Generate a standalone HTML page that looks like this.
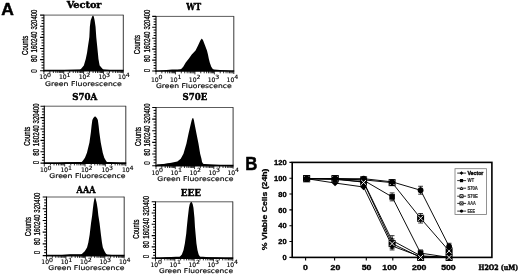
<!DOCTYPE html>
<html lang="en"><head><meta charset="utf-8"><title>Figure</title>
<style>html,body{margin:0;padding:0;background:#fff}body{width:520px;height:275px;overflow:hidden}svg{display:block}</style>
</head><body>
<svg width="520" height="275" viewBox="0 0 520 275" role="img" aria-label="Figure panels A and B">
<rect width="520" height="275" fill="#fff"/>
<text x="1.2" y="14.85" font-size="17.0" font-family='"Liberation Sans", "DejaVu Sans", sans-serif' font-weight="bold" text-anchor="start" fill="#000" stroke="#000" stroke-width="0.5" stroke-linejoin="round" textLength="12.6" lengthAdjust="spacingAndGlyphs">A</text>
<text x="245.3" y="169.7" font-size="18.0" font-family='"Liberation Sans", "DejaVu Sans", sans-serif' font-weight="bold" text-anchor="start" fill="#000" stroke="#000" stroke-width="0.5" stroke-linejoin="round" textLength="12.1" lengthAdjust="spacingAndGlyphs">B</text>
<path d="M43.9 15.1H123.3" fill="none" stroke="#4a4a4a" stroke-width="0.9"/>
<path d="M123.3 14.8V70.7" fill="none" stroke="#222" stroke-width="0.9"/>
<path d="M43.9 14.7V71.5" fill="none" stroke="#000" stroke-width="1.1"/>
<path d="M43.4 70.7H123.7" fill="none" stroke="#000" stroke-width="1.7"/>
<polygon points="78.85,70.7 79.85,70.1 81.35,68.6 83.85,65.4 85.75,59.1 87.05,52.7 88.05,45.8 88.95,40 89.35,36.9 89.85,26.7 90.65,20.4 92.15,16.5 92.95,15.6 93.05,15.6 93.75,16.5 94.65,20.4 95.55,26.7 96.25,36.9 96.55,40 97.15,45.8 97.85,52.7 98.45,59.1 99.65,65.4 102.25,68.6 103.65,70.1 104.65,70.7" fill="#000"/>
<polygon points="58,70.7 64,70 72,69.7 80,69.5 104,69.6 110,70 116,70.7" fill="#000"/>
<path d="M41.5 67.92H43.9M41.5 65.14H43.9M41.5 62.36H43.9M41.5 56.8H43.9M41.5 54.02H43.9M41.5 51.24H43.9M41.5 45.68H43.9M41.5 42.9H43.9M41.5 40.12H43.9M41.5 34.56H43.9M41.5 31.78H43.9M41.5 29H43.9M41.5 23.44H43.9M41.5 20.66H43.9M41.5 17.88H43.9" stroke="#000" stroke-width="1.0" fill="none"/>
<path d="M40.1 70.7H43.9M40.1 59.58H43.9M40.1 48.46H43.9M40.1 37.34H43.9M40.1 26.22H43.9M40.1 15.1H43.9" stroke="#000" stroke-width="1.1" fill="none"/>
<path d="M43.9 70.7v3.4M49.88 70.7v2.3M53.37 70.7v2.3M55.85 70.7v2.3M57.77 70.7v2.3M59.35 70.7v2.3M60.68 70.7v2.3M61.83 70.7v2.3M62.84 70.7v2.3M63.75 70.7v3.4M69.73 70.7v2.3M73.22 70.7v2.3M75.7 70.7v2.3M77.62 70.7v2.3M79.2 70.7v2.3M80.53 70.7v2.3M81.68 70.7v2.3M82.69 70.7v2.3M83.6 70.7v3.4M89.58 70.7v2.3M93.07 70.7v2.3M95.55 70.7v2.3M97.47 70.7v2.3M99.05 70.7v2.3M100.38 70.7v2.3M101.53 70.7v2.3M102.54 70.7v2.3M103.45 70.7v3.4M109.43 70.7v2.3M112.92 70.7v2.3M115.4 70.7v2.3M117.32 70.7v2.3M118.9 70.7v2.3M120.23 70.7v2.3M121.38 70.7v2.3M122.39 70.7v2.3M123.3 70.7v3" stroke="#000" stroke-width="0.8" fill="none"/>
<text x="39.3" y="79" font-size="6.2" font-family='"DejaVu Sans", "Liberation Sans", sans-serif' font-weight="normal" text-anchor="start" fill="#000" stroke="#000" stroke-width="0.15" stroke-linejoin="round" textLength="7.7" lengthAdjust="spacingAndGlyphs">10</text>
<text x="46.9" y="76.6" font-size="5.8" font-family='"DejaVu Sans", "Liberation Sans", sans-serif' font-weight="normal" text-anchor="start" fill="#000" stroke="#000" stroke-width="0.15" stroke-linejoin="round" textLength="4" lengthAdjust="spacingAndGlyphs">0</text>
<text x="59" y="79" font-size="6.2" font-family='"DejaVu Sans", "Liberation Sans", sans-serif' font-weight="normal" text-anchor="start" fill="#000" stroke="#000" stroke-width="0.15" stroke-linejoin="round" textLength="7.7" lengthAdjust="spacingAndGlyphs">10</text>
<text x="66.6" y="76.6" font-size="5.8" font-family='"DejaVu Sans", "Liberation Sans", sans-serif' font-weight="normal" text-anchor="start" fill="#000" stroke="#000" stroke-width="0.15" stroke-linejoin="round" textLength="4" lengthAdjust="spacingAndGlyphs">1</text>
<text x="78.7" y="79" font-size="6.2" font-family='"DejaVu Sans", "Liberation Sans", sans-serif' font-weight="normal" text-anchor="start" fill="#000" stroke="#000" stroke-width="0.15" stroke-linejoin="round" textLength="7.7" lengthAdjust="spacingAndGlyphs">10</text>
<text x="86.3" y="76.6" font-size="5.8" font-family='"DejaVu Sans", "Liberation Sans", sans-serif' font-weight="normal" text-anchor="start" fill="#000" stroke="#000" stroke-width="0.15" stroke-linejoin="round" textLength="4" lengthAdjust="spacingAndGlyphs">2</text>
<text x="98.4" y="79" font-size="6.2" font-family='"DejaVu Sans", "Liberation Sans", sans-serif' font-weight="normal" text-anchor="start" fill="#000" stroke="#000" stroke-width="0.15" stroke-linejoin="round" textLength="7.7" lengthAdjust="spacingAndGlyphs">10</text>
<text x="106" y="76.6" font-size="5.8" font-family='"DejaVu Sans", "Liberation Sans", sans-serif' font-weight="normal" text-anchor="start" fill="#000" stroke="#000" stroke-width="0.15" stroke-linejoin="round" textLength="4" lengthAdjust="spacingAndGlyphs">3</text>
<text x="118.1" y="79" font-size="6.2" font-family='"DejaVu Sans", "Liberation Sans", sans-serif' font-weight="normal" text-anchor="start" fill="#000" stroke="#000" stroke-width="0.15" stroke-linejoin="round" textLength="7.7" lengthAdjust="spacingAndGlyphs">10</text>
<text x="125.7" y="76.6" font-size="5.8" font-family='"DejaVu Sans", "Liberation Sans", sans-serif' font-weight="normal" text-anchor="start" fill="#000" stroke="#000" stroke-width="0.15" stroke-linejoin="round" textLength="4" lengthAdjust="spacingAndGlyphs">4</text>
<text x="45.1" y="85.6" font-size="6.4" font-family='"DejaVu Sans", "Liberation Sans", sans-serif' font-weight="normal" text-anchor="start" fill="#000" stroke="#000" stroke-width="0.15" stroke-linejoin="round" textLength="76.8" lengthAdjust="spacingAndGlyphs">Green Fluorescence</text>
<text x="37.2" y="72.75" font-size="8.4" font-family='"Liberation Sans", "DejaVu Sans", sans-serif' font-weight="normal" text-anchor="start" fill="#000" stroke="#000" stroke-width="0.2" stroke-linejoin="round" textLength="3.5" lengthAdjust="spacingAndGlyphs" transform="rotate(-90 37.2 72.75)">0</text>
<text x="37.2" y="61.9" font-size="8.4" font-family='"Liberation Sans", "DejaVu Sans", sans-serif' font-weight="normal" text-anchor="start" fill="#000" stroke="#000" stroke-width="0.3" stroke-linejoin="round" textLength="7" lengthAdjust="spacingAndGlyphs" transform="rotate(-90 37.2 61.9)">80</text>
<text x="37.2" y="52.5" font-size="8.4" font-family='"Liberation Sans", "DejaVu Sans", sans-serif' font-weight="normal" text-anchor="start" fill="#000" stroke="#000" stroke-width="0.3" stroke-linejoin="round" textLength="21" lengthAdjust="spacingAndGlyphs" transform="rotate(-90 37.2 52.5)">160240</text>
<text x="37.2" y="29.6" font-size="8.4" font-family='"Liberation Sans", "DejaVu Sans", sans-serif' font-weight="normal" text-anchor="start" fill="#000" stroke="#000" stroke-width="0.3" stroke-linejoin="round" textLength="20" lengthAdjust="spacingAndGlyphs" transform="rotate(-90 37.2 29.6)">320400</text>
<text x="27.8" y="54.9" font-size="8.8" font-family='"Liberation Sans", "DejaVu Sans", sans-serif' font-weight="normal" text-anchor="start" fill="#000" stroke="#000" stroke-width="0.3" stroke-linejoin="round" textLength="19.2" lengthAdjust="spacingAndGlyphs" transform="rotate(-90 27.8 54.9)">Counts</text>
<text x="66.7" y="8.1" font-size="9.8" font-family='"DejaVu Serif", "Liberation Serif", serif' font-weight="bold" text-anchor="start" fill="#000" stroke="#000" stroke-width="0.45" stroke-linejoin="round" textLength="34.8" lengthAdjust="spacingAndGlyphs">Vector</text>
<path d="M156 16.4H233.8" fill="none" stroke="#4a4a4a" stroke-width="0.9"/>
<path d="M233.8 16.1V71" fill="none" stroke="#222" stroke-width="0.9"/>
<path d="M156 16V71.8" fill="none" stroke="#000" stroke-width="1.1"/>
<path d="M155.5 71H234.2" fill="none" stroke="#000" stroke-width="1.7"/>
<polygon points="170.35,71 176.35,70.3 180.95,69.2 183.25,66.7 185.75,62.6 188.95,58.5 191.75,54.5 195.55,50.4 198.05,45.5 200.35,40.5 201.55,38.7 202.05,38.7 203.15,40.5 205.05,45.5 206.95,50.4 207.95,54.5 208.75,58.5 209.75,62.6 211.25,66.7 212.95,69.2 214.65,70.3 216.65,71" fill="#000"/>
<polygon points="158,71 164,70.2 172,69.6 214,69.6 220,70 227,70.4 231,71" fill="#000"/>
<path d="M153.6 68.27H156M153.6 65.54H156M153.6 62.81H156M153.6 57.35H156M153.6 54.62H156M153.6 51.89H156M153.6 46.43H156M153.6 43.7H156M153.6 40.97H156M153.6 35.51H156M153.6 32.78H156M153.6 30.05H156M153.6 24.59H156M153.6 21.86H156M153.6 19.13H156" stroke="#000" stroke-width="1.0" fill="none"/>
<path d="M152.2 71H156M152.2 60.08H156M152.2 49.16H156M152.2 38.24H156M152.2 27.32H156M152.2 16.4H156" stroke="#000" stroke-width="1.1" fill="none"/>
<path d="M156 71v3.4M161.86 71v2.3M165.28 71v2.3M167.71 71v2.3M169.59 71v2.3M171.14 71v2.3M172.44 71v2.3M173.57 71v2.3M174.56 71v2.3M175.45 71v3.4M181.31 71v2.3M184.73 71v2.3M187.16 71v2.3M189.04 71v2.3M190.59 71v2.3M191.89 71v2.3M193.02 71v2.3M194.01 71v2.3M194.9 71v3.4M200.76 71v2.3M204.18 71v2.3M206.61 71v2.3M208.49 71v2.3M210.04 71v2.3M211.34 71v2.3M212.47 71v2.3M213.46 71v2.3M214.35 71v3.4M220.21 71v2.3M223.63 71v2.3M226.06 71v2.3M227.94 71v2.3M229.49 71v2.3M230.79 71v2.3M231.92 71v2.3M232.91 71v2.3M233.8 71v3" stroke="#000" stroke-width="0.8" fill="none"/>
<text x="151" y="81.8" font-size="6.2" font-family='"DejaVu Sans", "Liberation Sans", sans-serif' font-weight="normal" text-anchor="start" fill="#000" stroke="#000" stroke-width="0.15" stroke-linejoin="round" textLength="7.7" lengthAdjust="spacingAndGlyphs">10</text>
<text x="158.6" y="79.4" font-size="5.8" font-family='"DejaVu Sans", "Liberation Sans", sans-serif' font-weight="normal" text-anchor="start" fill="#000" stroke="#000" stroke-width="0.15" stroke-linejoin="round" textLength="4" lengthAdjust="spacingAndGlyphs">0</text>
<text x="169.9" y="81.8" font-size="6.2" font-family='"DejaVu Sans", "Liberation Sans", sans-serif' font-weight="normal" text-anchor="start" fill="#000" stroke="#000" stroke-width="0.15" stroke-linejoin="round" textLength="7.7" lengthAdjust="spacingAndGlyphs">10</text>
<text x="177.5" y="79.4" font-size="5.8" font-family='"DejaVu Sans", "Liberation Sans", sans-serif' font-weight="normal" text-anchor="start" fill="#000" stroke="#000" stroke-width="0.15" stroke-linejoin="round" textLength="4" lengthAdjust="spacingAndGlyphs">1</text>
<text x="188.8" y="81.8" font-size="6.2" font-family='"DejaVu Sans", "Liberation Sans", sans-serif' font-weight="normal" text-anchor="start" fill="#000" stroke="#000" stroke-width="0.15" stroke-linejoin="round" textLength="7.7" lengthAdjust="spacingAndGlyphs">10</text>
<text x="196.4" y="79.4" font-size="5.8" font-family='"DejaVu Sans", "Liberation Sans", sans-serif' font-weight="normal" text-anchor="start" fill="#000" stroke="#000" stroke-width="0.15" stroke-linejoin="round" textLength="4" lengthAdjust="spacingAndGlyphs">2</text>
<text x="207.7" y="81.8" font-size="6.2" font-family='"DejaVu Sans", "Liberation Sans", sans-serif' font-weight="normal" text-anchor="start" fill="#000" stroke="#000" stroke-width="0.15" stroke-linejoin="round" textLength="7.7" lengthAdjust="spacingAndGlyphs">10</text>
<text x="215.3" y="79.4" font-size="5.8" font-family='"DejaVu Sans", "Liberation Sans", sans-serif' font-weight="normal" text-anchor="start" fill="#000" stroke="#000" stroke-width="0.15" stroke-linejoin="round" textLength="4" lengthAdjust="spacingAndGlyphs">3</text>
<text x="226.6" y="81.8" font-size="6.2" font-family='"DejaVu Sans", "Liberation Sans", sans-serif' font-weight="normal" text-anchor="start" fill="#000" stroke="#000" stroke-width="0.15" stroke-linejoin="round" textLength="7.7" lengthAdjust="spacingAndGlyphs">10</text>
<text x="234.2" y="79.4" font-size="5.8" font-family='"DejaVu Sans", "Liberation Sans", sans-serif' font-weight="normal" text-anchor="start" fill="#000" stroke="#000" stroke-width="0.15" stroke-linejoin="round" textLength="4" lengthAdjust="spacingAndGlyphs">4</text>
<text x="155.9" y="87.6" font-size="6.4" font-family='"DejaVu Sans", "Liberation Sans", sans-serif' font-weight="normal" text-anchor="start" fill="#000" stroke="#000" stroke-width="0.15" stroke-linejoin="round" textLength="75.8" lengthAdjust="spacingAndGlyphs">Green Fluorescence</text>
<text x="149.6" y="72.35" font-size="8.4" font-family='"Liberation Sans", "DejaVu Sans", sans-serif' font-weight="normal" text-anchor="start" fill="#000" stroke="#000" stroke-width="0.2" stroke-linejoin="round" textLength="3.5" lengthAdjust="spacingAndGlyphs" transform="rotate(-90 149.6 72.35)">0</text>
<text x="149.6" y="61.9" font-size="8.4" font-family='"Liberation Sans", "DejaVu Sans", sans-serif' font-weight="normal" text-anchor="start" fill="#000" stroke="#000" stroke-width="0.3" stroke-linejoin="round" textLength="7" lengthAdjust="spacingAndGlyphs" transform="rotate(-90 149.6 61.9)">80</text>
<text x="149.6" y="52.5" font-size="8.4" font-family='"Liberation Sans", "DejaVu Sans", sans-serif' font-weight="normal" text-anchor="start" fill="#000" stroke="#000" stroke-width="0.3" stroke-linejoin="round" textLength="21" lengthAdjust="spacingAndGlyphs" transform="rotate(-90 149.6 52.5)">160240</text>
<text x="149.6" y="29.6" font-size="8.4" font-family='"Liberation Sans", "DejaVu Sans", sans-serif' font-weight="normal" text-anchor="start" fill="#000" stroke="#000" stroke-width="0.3" stroke-linejoin="round" textLength="20" lengthAdjust="spacingAndGlyphs" transform="rotate(-90 149.6 29.6)">320400</text>
<text x="140.3" y="54.2" font-size="8.8" font-family='"Liberation Sans", "DejaVu Sans", sans-serif' font-weight="normal" text-anchor="start" fill="#000" stroke="#000" stroke-width="0.3" stroke-linejoin="round" textLength="19.2" lengthAdjust="spacingAndGlyphs" transform="rotate(-90 140.3 54.2)">Counts</text>
<text x="186.3" y="9.8" font-size="9.8" font-family='"DejaVu Serif", "Liberation Serif", serif' font-weight="bold" text-anchor="start" fill="#000" stroke="#000" stroke-width="0.45" stroke-linejoin="round" textLength="14.8" lengthAdjust="spacingAndGlyphs">WT</text>
<path d="M44.3 106.2H125.8" fill="none" stroke="#4a4a4a" stroke-width="0.9"/>
<path d="M125.8 105.9V163.1" fill="none" stroke="#222" stroke-width="0.9"/>
<path d="M44.3 105.8V163.9" fill="none" stroke="#000" stroke-width="1.1"/>
<path d="M43.8 163.1H126.2" fill="none" stroke="#000" stroke-width="1.7"/>
<polygon points="80.85,163.1 82.65,160.9 84.95,157.8 86.95,152.7 89.45,142.5 90.85,132.4 91.55,126 92.35,120.1 93.35,118 94.75,116.5 95.45,116.5 96.85,118 97.85,120.1 98.65,126 99.35,132.4 100.75,142.5 102.75,152.7 104.25,157.8 106.15,160.9 107.65,163.1" fill="#000"/>
<polygon points="58,163.1 66,162.3 78,161.9 110,161.9 115,162.4 120,163.1" fill="#000"/>
<path d="M41.9 160.25H44.3M41.9 157.41H44.3M41.9 154.56H44.3M41.9 148.88H44.3M41.9 146.03H44.3M41.9 143.19H44.3M41.9 137.5H44.3M41.9 134.65H44.3M41.9 131.81H44.3M41.9 126.11H44.3M41.9 123.27H44.3M41.9 120.42H44.3M41.9 114.73H44.3M41.9 111.89H44.3M41.9 109.05H44.3" stroke="#000" stroke-width="1.0" fill="none"/>
<path d="M40.5 163.1H44.3M40.5 151.72H44.3M40.5 140.34H44.3M40.5 128.96H44.3M40.5 117.58H44.3M40.5 106.2H44.3" stroke="#000" stroke-width="1.1" fill="none"/>
<path d="M44.3 163.1v3.4M50.43 163.1v2.3M54.02 163.1v2.3M56.57 163.1v2.3M58.54 163.1v2.3M60.15 163.1v2.3M61.52 163.1v2.3M62.7 163.1v2.3M63.74 163.1v2.3M64.67 163.1v3.4M70.81 163.1v2.3M74.4 163.1v2.3M76.94 163.1v2.3M78.92 163.1v2.3M80.53 163.1v2.3M81.89 163.1v2.3M83.08 163.1v2.3M84.12 163.1v2.3M85.05 163.1v3.4M91.18 163.1v2.3M94.77 163.1v2.3M97.32 163.1v2.3M99.29 163.1v2.3M100.9 163.1v2.3M102.27 163.1v2.3M103.45 163.1v2.3M104.49 163.1v2.3M105.42 163.1v3.4M111.56 163.1v2.3M115.15 163.1v2.3M117.69 163.1v2.3M119.67 163.1v2.3M121.28 163.1v2.3M122.64 163.1v2.3M123.83 163.1v2.3M124.87 163.1v2.3M125.8 163.1v3" stroke="#000" stroke-width="0.8" fill="none"/>
<text x="39.9" y="172" font-size="6.2" font-family='"DejaVu Sans", "Liberation Sans", sans-serif' font-weight="normal" text-anchor="start" fill="#000" stroke="#000" stroke-width="0.15" stroke-linejoin="round" textLength="7.7" lengthAdjust="spacingAndGlyphs">10</text>
<text x="47.5" y="169.6" font-size="5.8" font-family='"DejaVu Sans", "Liberation Sans", sans-serif' font-weight="normal" text-anchor="start" fill="#000" stroke="#000" stroke-width="0.15" stroke-linejoin="round" textLength="4" lengthAdjust="spacingAndGlyphs">0</text>
<text x="60.4" y="172" font-size="6.2" font-family='"DejaVu Sans", "Liberation Sans", sans-serif' font-weight="normal" text-anchor="start" fill="#000" stroke="#000" stroke-width="0.15" stroke-linejoin="round" textLength="7.7" lengthAdjust="spacingAndGlyphs">10</text>
<text x="68" y="169.6" font-size="5.8" font-family='"DejaVu Sans", "Liberation Sans", sans-serif' font-weight="normal" text-anchor="start" fill="#000" stroke="#000" stroke-width="0.15" stroke-linejoin="round" textLength="4" lengthAdjust="spacingAndGlyphs">1</text>
<text x="80.9" y="172" font-size="6.2" font-family='"DejaVu Sans", "Liberation Sans", sans-serif' font-weight="normal" text-anchor="start" fill="#000" stroke="#000" stroke-width="0.15" stroke-linejoin="round" textLength="7.7" lengthAdjust="spacingAndGlyphs">10</text>
<text x="88.5" y="169.6" font-size="5.8" font-family='"DejaVu Sans", "Liberation Sans", sans-serif' font-weight="normal" text-anchor="start" fill="#000" stroke="#000" stroke-width="0.15" stroke-linejoin="round" textLength="4" lengthAdjust="spacingAndGlyphs">2</text>
<text x="101.4" y="172" font-size="6.2" font-family='"DejaVu Sans", "Liberation Sans", sans-serif' font-weight="normal" text-anchor="start" fill="#000" stroke="#000" stroke-width="0.15" stroke-linejoin="round" textLength="7.7" lengthAdjust="spacingAndGlyphs">10</text>
<text x="109" y="169.6" font-size="5.8" font-family='"DejaVu Sans", "Liberation Sans", sans-serif' font-weight="normal" text-anchor="start" fill="#000" stroke="#000" stroke-width="0.15" stroke-linejoin="round" textLength="4" lengthAdjust="spacingAndGlyphs">3</text>
<text x="121.9" y="172" font-size="6.2" font-family='"DejaVu Sans", "Liberation Sans", sans-serif' font-weight="normal" text-anchor="start" fill="#000" stroke="#000" stroke-width="0.15" stroke-linejoin="round" textLength="7.7" lengthAdjust="spacingAndGlyphs">10</text>
<text x="129.5" y="169.6" font-size="5.8" font-family='"DejaVu Sans", "Liberation Sans", sans-serif' font-weight="normal" text-anchor="start" fill="#000" stroke="#000" stroke-width="0.15" stroke-linejoin="round" textLength="4" lengthAdjust="spacingAndGlyphs">4</text>
<text x="49.2" y="177.7" font-size="6.4" font-family='"DejaVu Sans", "Liberation Sans", sans-serif' font-weight="normal" text-anchor="start" fill="#000" stroke="#000" stroke-width="0.15" stroke-linejoin="round" textLength="76.4" lengthAdjust="spacingAndGlyphs">Green Fluorescence</text>
<text x="39" y="164.15" font-size="8.4" font-family='"Liberation Sans", "DejaVu Sans", sans-serif' font-weight="normal" text-anchor="start" fill="#000" stroke="#000" stroke-width="0.2" stroke-linejoin="round" textLength="3.5" lengthAdjust="spacingAndGlyphs" transform="rotate(-90 39 164.15)">0</text>
<text x="39" y="155.7" font-size="8.4" font-family='"Liberation Sans", "DejaVu Sans", sans-serif' font-weight="normal" text-anchor="start" fill="#000" stroke="#000" stroke-width="0.3" stroke-linejoin="round" textLength="7" lengthAdjust="spacingAndGlyphs" transform="rotate(-90 39 155.7)">80</text>
<text x="39" y="146.3" font-size="8.4" font-family='"Liberation Sans", "DejaVu Sans", sans-serif' font-weight="normal" text-anchor="start" fill="#000" stroke="#000" stroke-width="0.3" stroke-linejoin="round" textLength="21" lengthAdjust="spacingAndGlyphs" transform="rotate(-90 39 146.3)">160240</text>
<text x="39" y="123.4" font-size="8.4" font-family='"Liberation Sans", "DejaVu Sans", sans-serif' font-weight="normal" text-anchor="start" fill="#000" stroke="#000" stroke-width="0.3" stroke-linejoin="round" textLength="20" lengthAdjust="spacingAndGlyphs" transform="rotate(-90 39 123.4)">320400</text>
<text x="29.6" y="145.8" font-size="8.8" font-family='"Liberation Sans", "DejaVu Sans", sans-serif' font-weight="normal" text-anchor="start" fill="#000" stroke="#000" stroke-width="0.3" stroke-linejoin="round" textLength="19.2" lengthAdjust="spacingAndGlyphs" transform="rotate(-90 29.6 145.8)">Counts</text>
<text x="72.2" y="99.5" font-size="9.8" font-family='"DejaVu Serif", "Liberation Serif", serif' font-weight="bold" text-anchor="start" fill="#000" stroke="#000" stroke-width="0.45" stroke-linejoin="round" textLength="25.1" lengthAdjust="spacingAndGlyphs">S70A</text>
<path d="M156 107.5H233.1" fill="none" stroke="#4a4a4a" stroke-width="0.9"/>
<path d="M233.1 107.2V165.7" fill="none" stroke="#222" stroke-width="0.9"/>
<path d="M156 107.1V166.5" fill="none" stroke="#000" stroke-width="1.1"/>
<path d="M155.5 165.7H233.5" fill="none" stroke="#000" stroke-width="1.7"/>
<polygon points="157.35,165.7 164.35,164.1 171.35,162.8 177.35,161.4 180.75,158.8 183.45,153.7 186.45,143.5 188.55,133.4 190.95,123.2 191.75,120 192.65,118 193.15,118 193.85,120 194.45,123.2 196.45,133.4 198.45,143.5 200.15,153.7 201.45,158.8 201.95,161.4 202.45,162.8 203.45,164.1 206.15,165.7" fill="#000"/>
<polygon points="157,165.7 157,164.5 166,163.7 172,162.9 205,163.9 212,164.5 220,164.9 228,165.7" fill="#000"/>
<path d="M153.6 162.79H156M153.6 159.88H156M153.6 156.97H156M153.6 151.15H156M153.6 148.24H156M153.6 145.33H156M153.6 139.51H156M153.6 136.6H156M153.6 133.69H156M153.6 127.87H156M153.6 124.96H156M153.6 122.05H156M153.6 116.23H156M153.6 113.32H156M153.6 110.41H156" stroke="#000" stroke-width="1.0" fill="none"/>
<path d="M152.2 165.7H156M152.2 154.06H156M152.2 142.42H156M152.2 130.78H156M152.2 119.14H156M152.2 107.5H156" stroke="#000" stroke-width="1.1" fill="none"/>
<path d="M156 165.7v3.4M161.8 165.7v2.3M165.2 165.7v2.3M167.6 165.7v2.3M169.47 165.7v2.3M171 165.7v2.3M172.29 165.7v2.3M173.41 165.7v2.3M174.39 165.7v2.3M175.28 165.7v3.4M181.08 165.7v2.3M184.47 165.7v2.3M186.88 165.7v2.3M188.75 165.7v2.3M190.27 165.7v2.3M191.56 165.7v2.3M192.68 165.7v2.3M193.67 165.7v2.3M194.55 165.7v3.4M200.35 165.7v2.3M203.75 165.7v2.3M206.15 165.7v2.3M208.02 165.7v2.3M209.55 165.7v2.3M210.84 165.7v2.3M211.96 165.7v2.3M212.94 165.7v2.3M213.82 165.7v3.4M219.63 165.7v2.3M223.02 165.7v2.3M225.43 165.7v2.3M227.3 165.7v2.3M228.82 165.7v2.3M230.11 165.7v2.3M231.23 165.7v2.3M232.22 165.7v2.3M233.1 165.7v3" stroke="#000" stroke-width="0.8" fill="none"/>
<text x="151.4" y="174.6" font-size="6.2" font-family='"DejaVu Sans", "Liberation Sans", sans-serif' font-weight="normal" text-anchor="start" fill="#000" stroke="#000" stroke-width="0.15" stroke-linejoin="round" textLength="7.7" lengthAdjust="spacingAndGlyphs">10</text>
<text x="159" y="172.2" font-size="5.8" font-family='"DejaVu Sans", "Liberation Sans", sans-serif' font-weight="normal" text-anchor="start" fill="#000" stroke="#000" stroke-width="0.15" stroke-linejoin="round" textLength="4" lengthAdjust="spacingAndGlyphs">0</text>
<text x="170.4" y="174.6" font-size="6.2" font-family='"DejaVu Sans", "Liberation Sans", sans-serif' font-weight="normal" text-anchor="start" fill="#000" stroke="#000" stroke-width="0.15" stroke-linejoin="round" textLength="7.7" lengthAdjust="spacingAndGlyphs">10</text>
<text x="178" y="172.2" font-size="5.8" font-family='"DejaVu Sans", "Liberation Sans", sans-serif' font-weight="normal" text-anchor="start" fill="#000" stroke="#000" stroke-width="0.15" stroke-linejoin="round" textLength="4" lengthAdjust="spacingAndGlyphs">1</text>
<text x="189.4" y="174.6" font-size="6.2" font-family='"DejaVu Sans", "Liberation Sans", sans-serif' font-weight="normal" text-anchor="start" fill="#000" stroke="#000" stroke-width="0.15" stroke-linejoin="round" textLength="7.7" lengthAdjust="spacingAndGlyphs">10</text>
<text x="197" y="172.2" font-size="5.8" font-family='"DejaVu Sans", "Liberation Sans", sans-serif' font-weight="normal" text-anchor="start" fill="#000" stroke="#000" stroke-width="0.15" stroke-linejoin="round" textLength="4" lengthAdjust="spacingAndGlyphs">2</text>
<text x="208.4" y="174.6" font-size="6.2" font-family='"DejaVu Sans", "Liberation Sans", sans-serif' font-weight="normal" text-anchor="start" fill="#000" stroke="#000" stroke-width="0.15" stroke-linejoin="round" textLength="7.7" lengthAdjust="spacingAndGlyphs">10</text>
<text x="216" y="172.2" font-size="5.8" font-family='"DejaVu Sans", "Liberation Sans", sans-serif' font-weight="normal" text-anchor="start" fill="#000" stroke="#000" stroke-width="0.15" stroke-linejoin="round" textLength="4" lengthAdjust="spacingAndGlyphs">3</text>
<text x="227.4" y="174.6" font-size="6.2" font-family='"DejaVu Sans", "Liberation Sans", sans-serif' font-weight="normal" text-anchor="start" fill="#000" stroke="#000" stroke-width="0.15" stroke-linejoin="round" textLength="7.7" lengthAdjust="spacingAndGlyphs">10</text>
<text x="235" y="172.2" font-size="5.8" font-family='"DejaVu Sans", "Liberation Sans", sans-serif' font-weight="normal" text-anchor="start" fill="#000" stroke="#000" stroke-width="0.15" stroke-linejoin="round" textLength="4" lengthAdjust="spacingAndGlyphs">4</text>
<text x="157.3" y="180.8" font-size="6.4" font-family='"DejaVu Sans", "Liberation Sans", sans-serif' font-weight="normal" text-anchor="start" fill="#000" stroke="#000" stroke-width="0.15" stroke-linejoin="round" textLength="76.2" lengthAdjust="spacingAndGlyphs">Green Fluorescence</text>
<text x="150.1" y="164.65" font-size="8.4" font-family='"Liberation Sans", "DejaVu Sans", sans-serif' font-weight="normal" text-anchor="start" fill="#000" stroke="#000" stroke-width="0.2" stroke-linejoin="round" textLength="3.5" lengthAdjust="spacingAndGlyphs" transform="rotate(-90 150.1 164.65)">0</text>
<text x="150.1" y="155.8" font-size="8.4" font-family='"Liberation Sans", "DejaVu Sans", sans-serif' font-weight="normal" text-anchor="start" fill="#000" stroke="#000" stroke-width="0.3" stroke-linejoin="round" textLength="7" lengthAdjust="spacingAndGlyphs" transform="rotate(-90 150.1 155.8)">80</text>
<text x="150.1" y="146.4" font-size="8.4" font-family='"Liberation Sans", "DejaVu Sans", sans-serif' font-weight="normal" text-anchor="start" fill="#000" stroke="#000" stroke-width="0.3" stroke-linejoin="round" textLength="21" lengthAdjust="spacingAndGlyphs" transform="rotate(-90 150.1 146.4)">160240</text>
<text x="150.1" y="123.5" font-size="8.4" font-family='"Liberation Sans", "DejaVu Sans", sans-serif' font-weight="normal" text-anchor="start" fill="#000" stroke="#000" stroke-width="0.3" stroke-linejoin="round" textLength="20" lengthAdjust="spacingAndGlyphs" transform="rotate(-90 150.1 123.5)">320400</text>
<text x="140.6" y="146.1" font-size="8.8" font-family='"Liberation Sans", "DejaVu Sans", sans-serif' font-weight="normal" text-anchor="start" fill="#000" stroke="#000" stroke-width="0.3" stroke-linejoin="round" textLength="19.2" lengthAdjust="spacingAndGlyphs" transform="rotate(-90 140.6 146.1)">Counts</text>
<text x="182.5" y="99.9" font-size="9.8" font-family='"DejaVu Serif", "Liberation Serif", serif' font-weight="bold" text-anchor="start" fill="#000" stroke="#000" stroke-width="0.45" stroke-linejoin="round" textLength="24.7" lengthAdjust="spacingAndGlyphs">S70E</text>
<path d="M46.5 197H124.2" fill="none" stroke="#4a4a4a" stroke-width="0.9"/>
<path d="M124.2 196.7V255.6" fill="none" stroke="#222" stroke-width="0.9"/>
<path d="M46.5 196.6V256.4" fill="none" stroke="#000" stroke-width="1.1"/>
<path d="M46 255.6H124.6" fill="none" stroke="#000" stroke-width="1.7"/>
<polygon points="79.85,255.6 82.35,253.4 84.75,251.3 87.05,247.4 88.35,242.4 89.65,234.7 91.05,223 92.15,215.4 92.85,209 93.65,202.7 94.25,199.5 94.85,197.4 95.15,197.4 95.85,199.5 96.65,202.7 97.65,209 98.35,215.4 99.55,223 100.95,234.7 101.95,242.4 102.85,247.4 104.55,251.3 105.85,253.4 107.65,255.6" fill="#000"/>
<polygon points="56,255.6 62,254.9 70,254.3 76,254.2 82,254.3 106,254.5 112,254.9 118,255.6" fill="#000"/>
<path d="M44.1 252.67H46.5M44.1 249.74H46.5M44.1 246.81H46.5M44.1 240.95H46.5M44.1 238.02H46.5M44.1 235.09H46.5M44.1 229.23H46.5M44.1 226.3H46.5M44.1 223.37H46.5M44.1 217.51H46.5M44.1 214.58H46.5M44.1 211.65H46.5M44.1 205.79H46.5M44.1 202.86H46.5M44.1 199.93H46.5" stroke="#000" stroke-width="1.0" fill="none"/>
<path d="M42.7 255.6H46.5M42.7 243.88H46.5M42.7 232.16H46.5M42.7 220.44H46.5M42.7 208.72H46.5M42.7 197H46.5" stroke="#000" stroke-width="1.1" fill="none"/>
<path d="M46.5 255.6v3.4M52.35 255.6v2.3M55.77 255.6v2.3M58.2 255.6v2.3M60.08 255.6v2.3M61.62 255.6v2.3M62.92 255.6v2.3M64.04 255.6v2.3M65.04 255.6v2.3M65.92 255.6v3.4M71.77 255.6v2.3M75.19 255.6v2.3M77.62 255.6v2.3M79.5 255.6v2.3M81.04 255.6v2.3M82.34 255.6v2.3M83.47 255.6v2.3M84.46 255.6v2.3M85.35 255.6v3.4M91.2 255.6v2.3M94.62 255.6v2.3M97.05 255.6v2.3M98.93 255.6v2.3M100.47 255.6v2.3M101.77 255.6v2.3M102.89 255.6v2.3M103.89 255.6v2.3M104.78 255.6v3.4M110.62 255.6v2.3M114.04 255.6v2.3M116.47 255.6v2.3M118.35 255.6v2.3M119.89 255.6v2.3M121.19 255.6v2.3M122.32 255.6v2.3M123.31 255.6v2.3M124.2 255.6v3" stroke="#000" stroke-width="0.8" fill="none"/>
<text x="41.3" y="264.1" font-size="6.2" font-family='"DejaVu Sans", "Liberation Sans", sans-serif' font-weight="normal" text-anchor="start" fill="#000" stroke="#000" stroke-width="0.15" stroke-linejoin="round" textLength="7.7" lengthAdjust="spacingAndGlyphs">10</text>
<text x="48.9" y="261.7" font-size="5.8" font-family='"DejaVu Sans", "Liberation Sans", sans-serif' font-weight="normal" text-anchor="start" fill="#000" stroke="#000" stroke-width="0.15" stroke-linejoin="round" textLength="4" lengthAdjust="spacingAndGlyphs">0</text>
<text x="60.7" y="264.1" font-size="6.2" font-family='"DejaVu Sans", "Liberation Sans", sans-serif' font-weight="normal" text-anchor="start" fill="#000" stroke="#000" stroke-width="0.15" stroke-linejoin="round" textLength="7.7" lengthAdjust="spacingAndGlyphs">10</text>
<text x="68.3" y="261.7" font-size="5.8" font-family='"DejaVu Sans", "Liberation Sans", sans-serif' font-weight="normal" text-anchor="start" fill="#000" stroke="#000" stroke-width="0.15" stroke-linejoin="round" textLength="4" lengthAdjust="spacingAndGlyphs">1</text>
<text x="80.1" y="264.1" font-size="6.2" font-family='"DejaVu Sans", "Liberation Sans", sans-serif' font-weight="normal" text-anchor="start" fill="#000" stroke="#000" stroke-width="0.15" stroke-linejoin="round" textLength="7.7" lengthAdjust="spacingAndGlyphs">10</text>
<text x="87.7" y="261.7" font-size="5.8" font-family='"DejaVu Sans", "Liberation Sans", sans-serif' font-weight="normal" text-anchor="start" fill="#000" stroke="#000" stroke-width="0.15" stroke-linejoin="round" textLength="4" lengthAdjust="spacingAndGlyphs">2</text>
<text x="99.5" y="264.1" font-size="6.2" font-family='"DejaVu Sans", "Liberation Sans", sans-serif' font-weight="normal" text-anchor="start" fill="#000" stroke="#000" stroke-width="0.15" stroke-linejoin="round" textLength="7.7" lengthAdjust="spacingAndGlyphs">10</text>
<text x="107.1" y="261.7" font-size="5.8" font-family='"DejaVu Sans", "Liberation Sans", sans-serif' font-weight="normal" text-anchor="start" fill="#000" stroke="#000" stroke-width="0.15" stroke-linejoin="round" textLength="4" lengthAdjust="spacingAndGlyphs">3</text>
<text x="118.9" y="264.1" font-size="6.2" font-family='"DejaVu Sans", "Liberation Sans", sans-serif' font-weight="normal" text-anchor="start" fill="#000" stroke="#000" stroke-width="0.15" stroke-linejoin="round" textLength="7.7" lengthAdjust="spacingAndGlyphs">10</text>
<text x="126.5" y="261.7" font-size="5.8" font-family='"DejaVu Sans", "Liberation Sans", sans-serif' font-weight="normal" text-anchor="start" fill="#000" stroke="#000" stroke-width="0.15" stroke-linejoin="round" textLength="4" lengthAdjust="spacingAndGlyphs">4</text>
<text x="48.2" y="270.1" font-size="6.4" font-family='"DejaVu Sans", "Liberation Sans", sans-serif' font-weight="normal" text-anchor="start" fill="#000" stroke="#000" stroke-width="0.15" stroke-linejoin="round" textLength="76.2" lengthAdjust="spacingAndGlyphs">Green Fluorescence</text>
<text x="40" y="254.35" font-size="8.4" font-family='"Liberation Sans", "DejaVu Sans", sans-serif' font-weight="normal" text-anchor="start" fill="#000" stroke="#000" stroke-width="0.2" stroke-linejoin="round" textLength="3.5" lengthAdjust="spacingAndGlyphs" transform="rotate(-90 40 254.35)">0</text>
<text x="40" y="245" font-size="8.4" font-family='"Liberation Sans", "DejaVu Sans", sans-serif' font-weight="normal" text-anchor="start" fill="#000" stroke="#000" stroke-width="0.3" stroke-linejoin="round" textLength="7" lengthAdjust="spacingAndGlyphs" transform="rotate(-90 40 245)">80</text>
<text x="40" y="235.6" font-size="8.4" font-family='"Liberation Sans", "DejaVu Sans", sans-serif' font-weight="normal" text-anchor="start" fill="#000" stroke="#000" stroke-width="0.3" stroke-linejoin="round" textLength="21" lengthAdjust="spacingAndGlyphs" transform="rotate(-90 40 235.6)">160240</text>
<text x="40" y="212.7" font-size="8.4" font-family='"Liberation Sans", "DejaVu Sans", sans-serif' font-weight="normal" text-anchor="start" fill="#000" stroke="#000" stroke-width="0.3" stroke-linejoin="round" textLength="20" lengthAdjust="spacingAndGlyphs" transform="rotate(-90 40 212.7)">320400</text>
<text x="30.7" y="236.2" font-size="8.8" font-family='"Liberation Sans", "DejaVu Sans", sans-serif' font-weight="normal" text-anchor="start" fill="#000" stroke="#000" stroke-width="0.3" stroke-linejoin="round" textLength="19.2" lengthAdjust="spacingAndGlyphs" transform="rotate(-90 30.7 236.2)">Counts</text>
<text x="76.6" y="192.7" font-size="9.8" font-family='"DejaVu Serif", "Liberation Serif", serif' font-weight="bold" text-anchor="start" fill="#000" stroke="#000" stroke-width="0.45" stroke-linejoin="round" textLength="19" lengthAdjust="spacingAndGlyphs">AAA</text>
<path d="M155.5 201.8H232.8" fill="none" stroke="#4a4a4a" stroke-width="0.9"/>
<path d="M232.8 201.5V258.1" fill="none" stroke="#222" stroke-width="0.9"/>
<path d="M155.5 201.4V258.9" fill="none" stroke="#000" stroke-width="1.1"/>
<path d="M155 258.1H233.2" fill="none" stroke="#000" stroke-width="1.7"/>
<polygon points="178.35,258.1 180.05,256.4 181.85,254.4 183.55,249.9 184.85,243.5 186.25,233.4 186.85,226.8 187.75,217.9 188.95,207.7 189.75,204 190.85,201.9 191.65,201.9 192.65,204 193.45,207.7 194.45,217.9 194.95,226.8 195.55,233.4 196.45,243.5 197.45,249.9 198.65,254.4 199.85,256.4 201.45,258.1" fill="#000"/>
<polygon points="160,258.1 166,257.3 176,256.8 203,256.8 209,257.2 217,257.5 225,258.1" fill="#000"/>
<path d="M153.1 255.29H155.5M153.1 252.47H155.5M153.1 249.66H155.5M153.1 244.03H155.5M153.1 241.21H155.5M153.1 238.4H155.5M153.1 232.77H155.5M153.1 229.95H155.5M153.1 227.14H155.5M153.1 221.51H155.5M153.1 218.69H155.5M153.1 215.88H155.5M153.1 210.25H155.5M153.1 207.43H155.5M153.1 204.62H155.5" stroke="#000" stroke-width="1.0" fill="none"/>
<path d="M151.7 258.1H155.5M151.7 246.84H155.5M151.7 235.58H155.5M151.7 224.32H155.5M151.7 213.06H155.5M151.7 201.8H155.5" stroke="#000" stroke-width="1.1" fill="none"/>
<path d="M155.5 258.1v3.4M161.32 258.1v2.3M164.72 258.1v2.3M167.13 258.1v2.3M169.01 258.1v2.3M170.54 258.1v2.3M171.83 258.1v2.3M172.95 258.1v2.3M173.94 258.1v2.3M174.82 258.1v3.4M180.64 258.1v2.3M184.05 258.1v2.3M186.46 258.1v2.3M188.33 258.1v2.3M189.86 258.1v2.3M191.16 258.1v2.3M192.28 258.1v2.3M193.27 258.1v2.3M194.15 258.1v3.4M199.97 258.1v2.3M203.37 258.1v2.3M205.78 258.1v2.3M207.66 258.1v2.3M209.19 258.1v2.3M210.48 258.1v2.3M211.6 258.1v2.3M212.59 258.1v2.3M213.48 258.1v3.4M219.29 258.1v2.3M222.7 258.1v2.3M225.11 258.1v2.3M226.98 258.1v2.3M228.51 258.1v2.3M229.81 258.1v2.3M230.93 258.1v2.3M231.92 258.1v2.3M232.8 258.1v3" stroke="#000" stroke-width="0.8" fill="none"/>
<text x="150.5" y="266.6" font-size="6.2" font-family='"DejaVu Sans", "Liberation Sans", sans-serif' font-weight="normal" text-anchor="start" fill="#000" stroke="#000" stroke-width="0.15" stroke-linejoin="round" textLength="7.7" lengthAdjust="spacingAndGlyphs">10</text>
<text x="158.1" y="264.2" font-size="5.8" font-family='"DejaVu Sans", "Liberation Sans", sans-serif' font-weight="normal" text-anchor="start" fill="#000" stroke="#000" stroke-width="0.15" stroke-linejoin="round" textLength="4" lengthAdjust="spacingAndGlyphs">0</text>
<text x="169.5" y="266.6" font-size="6.2" font-family='"DejaVu Sans", "Liberation Sans", sans-serif' font-weight="normal" text-anchor="start" fill="#000" stroke="#000" stroke-width="0.15" stroke-linejoin="round" textLength="7.7" lengthAdjust="spacingAndGlyphs">10</text>
<text x="177.1" y="264.2" font-size="5.8" font-family='"DejaVu Sans", "Liberation Sans", sans-serif' font-weight="normal" text-anchor="start" fill="#000" stroke="#000" stroke-width="0.15" stroke-linejoin="round" textLength="4" lengthAdjust="spacingAndGlyphs">1</text>
<text x="188.5" y="266.6" font-size="6.2" font-family='"DejaVu Sans", "Liberation Sans", sans-serif' font-weight="normal" text-anchor="start" fill="#000" stroke="#000" stroke-width="0.15" stroke-linejoin="round" textLength="7.7" lengthAdjust="spacingAndGlyphs">10</text>
<text x="196.1" y="264.2" font-size="5.8" font-family='"DejaVu Sans", "Liberation Sans", sans-serif' font-weight="normal" text-anchor="start" fill="#000" stroke="#000" stroke-width="0.15" stroke-linejoin="round" textLength="4" lengthAdjust="spacingAndGlyphs">2</text>
<text x="207.5" y="266.6" font-size="6.2" font-family='"DejaVu Sans", "Liberation Sans", sans-serif' font-weight="normal" text-anchor="start" fill="#000" stroke="#000" stroke-width="0.15" stroke-linejoin="round" textLength="7.7" lengthAdjust="spacingAndGlyphs">10</text>
<text x="215.1" y="264.2" font-size="5.8" font-family='"DejaVu Sans", "Liberation Sans", sans-serif' font-weight="normal" text-anchor="start" fill="#000" stroke="#000" stroke-width="0.15" stroke-linejoin="round" textLength="4" lengthAdjust="spacingAndGlyphs">3</text>
<text x="226.5" y="266.6" font-size="6.2" font-family='"DejaVu Sans", "Liberation Sans", sans-serif' font-weight="normal" text-anchor="start" fill="#000" stroke="#000" stroke-width="0.15" stroke-linejoin="round" textLength="7.7" lengthAdjust="spacingAndGlyphs">10</text>
<text x="234.1" y="264.2" font-size="5.8" font-family='"DejaVu Sans", "Liberation Sans", sans-serif' font-weight="normal" text-anchor="start" fill="#000" stroke="#000" stroke-width="0.15" stroke-linejoin="round" textLength="4" lengthAdjust="spacingAndGlyphs">4</text>
<text x="158.9" y="272.5" font-size="6.4" font-family='"DejaVu Sans", "Liberation Sans", sans-serif' font-weight="normal" text-anchor="start" fill="#000" stroke="#000" stroke-width="0.15" stroke-linejoin="round" textLength="74.1" lengthAdjust="spacingAndGlyphs">Green Fluorescence</text>
<text x="148.6" y="258.25" font-size="8.4" font-family='"Liberation Sans", "DejaVu Sans", sans-serif' font-weight="normal" text-anchor="start" fill="#000" stroke="#000" stroke-width="0.2" stroke-linejoin="round" textLength="3.5" lengthAdjust="spacingAndGlyphs" transform="rotate(-90 148.6 258.25)">0</text>
<text x="148.6" y="248.1" font-size="8.4" font-family='"Liberation Sans", "DejaVu Sans", sans-serif' font-weight="normal" text-anchor="start" fill="#000" stroke="#000" stroke-width="0.3" stroke-linejoin="round" textLength="7" lengthAdjust="spacingAndGlyphs" transform="rotate(-90 148.6 248.1)">80</text>
<text x="148.6" y="238.7" font-size="8.4" font-family='"Liberation Sans", "DejaVu Sans", sans-serif' font-weight="normal" text-anchor="start" fill="#000" stroke="#000" stroke-width="0.3" stroke-linejoin="round" textLength="21" lengthAdjust="spacingAndGlyphs" transform="rotate(-90 148.6 238.7)">160240</text>
<text x="148.6" y="215.8" font-size="8.4" font-family='"Liberation Sans", "DejaVu Sans", sans-serif' font-weight="normal" text-anchor="start" fill="#000" stroke="#000" stroke-width="0.3" stroke-linejoin="round" textLength="20" lengthAdjust="spacingAndGlyphs" transform="rotate(-90 148.6 215.8)">320400</text>
<text x="138.8" y="238.7" font-size="8.8" font-family='"Liberation Sans", "DejaVu Sans", sans-serif' font-weight="normal" text-anchor="start" fill="#000" stroke="#000" stroke-width="0.3" stroke-linejoin="round" textLength="19.2" lengthAdjust="spacingAndGlyphs" transform="rotate(-90 138.8 238.7)">Counts</text>
<text x="180.7" y="196.1" font-size="9.8" font-family='"DejaVu Serif", "Liberation Serif", serif' font-weight="bold" text-anchor="start" fill="#000" stroke="#000" stroke-width="0.45" stroke-linejoin="round" textLength="20.2" lengthAdjust="spacingAndGlyphs">EEE</text>
<rect x="292.2" y="162.4" width="199.7" height="95" fill="#fff" stroke="#000" stroke-width="1.6"/>
<text x="286.6" y="260.15" font-size="7.5" font-family='"Liberation Sans", "DejaVu Sans", sans-serif' font-weight="bold" text-anchor="end" fill="#000" stroke="#000" stroke-width="0.35" stroke-linejoin="round">0</text>
<text x="286.6" y="244.32" font-size="7.5" font-family='"Liberation Sans", "DejaVu Sans", sans-serif' font-weight="bold" text-anchor="end" fill="#000" stroke="#000" stroke-width="0.35" stroke-linejoin="round">20</text>
<text x="286.6" y="228.48" font-size="7.5" font-family='"Liberation Sans", "DejaVu Sans", sans-serif' font-weight="bold" text-anchor="end" fill="#000" stroke="#000" stroke-width="0.35" stroke-linejoin="round">40</text>
<text x="286.6" y="212.65" font-size="7.5" font-family='"Liberation Sans", "DejaVu Sans", sans-serif' font-weight="bold" text-anchor="end" fill="#000" stroke="#000" stroke-width="0.35" stroke-linejoin="round">60</text>
<text x="286.6" y="196.82" font-size="7.5" font-family='"Liberation Sans", "DejaVu Sans", sans-serif' font-weight="bold" text-anchor="end" fill="#000" stroke="#000" stroke-width="0.35" stroke-linejoin="round">80</text>
<text x="286.6" y="180.98" font-size="7.5" font-family='"Liberation Sans", "DejaVu Sans", sans-serif' font-weight="bold" text-anchor="end" fill="#000" stroke="#000" stroke-width="0.35" stroke-linejoin="round">100</text>
<text x="286.6" y="165.15" font-size="7.5" font-family='"Liberation Sans", "DejaVu Sans", sans-serif' font-weight="bold" text-anchor="end" fill="#000" stroke="#000" stroke-width="0.35" stroke-linejoin="round">120</text>
<path d="M289.4 257.4H292.2M289.4 241.57H292.2M289.4 225.73H292.2M289.4 209.9H292.2M289.4 194.07H292.2M289.4 178.23H292.2M289.4 162.4H292.2M305.6 257.4v3.2M334.6 257.4v3.2M366.3 257.4v3.2M392.8 257.4v3.2M421 257.4v3.2M449.5 257.4v3.2" stroke="#000" stroke-width="1.1" fill="none"/>
<text x="305.4" y="270.2" font-size="7.4" font-family='"Liberation Sans", "DejaVu Sans", sans-serif' font-weight="bold" text-anchor="middle" fill="#000" stroke="#000" stroke-width="0.35" stroke-linejoin="round" textLength="4.85" lengthAdjust="spacingAndGlyphs">0</text>
<text x="335.4" y="270.2" font-size="7.4" font-family='"Liberation Sans", "DejaVu Sans", sans-serif' font-weight="bold" text-anchor="middle" fill="#000" stroke="#000" stroke-width="0.35" stroke-linejoin="round" textLength="9.7" lengthAdjust="spacingAndGlyphs">20</text>
<text x="366.6" y="270.2" font-size="7.4" font-family='"Liberation Sans", "DejaVu Sans", sans-serif' font-weight="bold" text-anchor="middle" fill="#000" stroke="#000" stroke-width="0.35" stroke-linejoin="round" textLength="9.7" lengthAdjust="spacingAndGlyphs">50</text>
<text x="389.6" y="270.2" font-size="7.4" font-family='"Liberation Sans", "DejaVu Sans", sans-serif' font-weight="bold" text-anchor="middle" fill="#000" stroke="#000" stroke-width="0.35" stroke-linejoin="round" textLength="14.55" lengthAdjust="spacingAndGlyphs">100</text>
<text x="419.2" y="270.2" font-size="7.4" font-family='"Liberation Sans", "DejaVu Sans", sans-serif' font-weight="bold" text-anchor="middle" fill="#000" stroke="#000" stroke-width="0.35" stroke-linejoin="round" textLength="14.55" lengthAdjust="spacingAndGlyphs">200</text>
<text x="448.4" y="270.2" font-size="7.4" font-family='"Liberation Sans", "DejaVu Sans", sans-serif' font-weight="bold" text-anchor="middle" fill="#000" stroke="#000" stroke-width="0.35" stroke-linejoin="round" textLength="14.55" lengthAdjust="spacingAndGlyphs">500</text>
<text x="478.5" y="270.2" font-size="7.4" font-family='"DejaVu Serif", "Liberation Serif", serif' font-weight="bold" text-anchor="start" fill="#000" stroke="#000" stroke-width="0.45" stroke-linejoin="round" textLength="39.7" lengthAdjust="spacingAndGlyphs">H2O2 (uM)</text>
<text x="266.9" y="250.2" font-size="7.9" font-family='"Liberation Sans", "DejaVu Sans", sans-serif' font-weight="bold" text-anchor="start" fill="#000" stroke="#000" stroke-width="0.3" stroke-linejoin="round" textLength="81.6" lengthAdjust="spacingAndGlyphs" transform="rotate(-90 266.9 250.2)">% Viable Cells (24h)</text>
<polyline points="306.6,178.68 335.1,183.04 363.6,187 392.1,245.97 420.6,256.61 449.1,257.4" fill="none" stroke="#000" stroke-width="0.95" stroke-linejoin="round"/>
<polyline points="306.6,178.68 335.1,178.68 363.6,180.27 392.1,196.89 420.6,253.1 449.1,257.4" fill="none" stroke="#000" stroke-width="0.95" stroke-linejoin="round"/>
<polyline points="306.6,178.68 335.1,179.47 363.6,181.85 392.1,240.43 420.6,255.82 449.1,257.4" fill="none" stroke="#000" stroke-width="0.95" stroke-linejoin="round"/>
<polyline points="306.6,178.68 335.1,178.68 363.6,182.25 392.1,243.6 420.6,257.4 449.1,257.4" fill="none" stroke="#000" stroke-width="0.95" stroke-linejoin="round"/>
<polyline points="306.6,178.68 335.1,178.68 363.6,179.87 392.1,182.64 420.6,218.27 449.1,250.96" fill="none" stroke="#000" stroke-width="0.95" stroke-linejoin="round"/>
<polyline points="306.6,178.68 335.1,178.68 363.6,178.68 392.1,181.85 420.6,190.24 449.1,246.45" fill="none" stroke="#000" stroke-width="0.95" stroke-linejoin="round"/>
<path d="M306.6 175.38L309.9 178.68L306.6 181.98L303.3 178.68Z" fill="#000"/>
<path d="M335.1 179.74L338.4 183.04L335.1 186.34L331.8 183.04Z" fill="#000"/>
<path d="M363.6 183.7L366.9 187L363.6 190.3L360.3 187Z" fill="#000"/>
<path d="M392.1 242.02V249.93M389.7 242.02h4.8M389.7 249.93h4.8" stroke="#000" stroke-width="0.8" fill="none"/>
<path d="M392.1 242.67L395.4 245.97L392.1 249.27L388.8 245.97Z" fill="#000"/>
<path d="M420.6 253.31L423.9 256.61L420.6 259.91L417.3 256.61Z" fill="#000"/>
<path d="M449.1 254.1L452.4 257.4L449.1 260.7L445.8 257.4Z" fill="#000"/>
<path d="M306.6 175.88L309.4 181.48L303.8 181.48Z" fill="#fff" stroke="#000" stroke-width="0.9"/>
<path d="M335.1 176.67L337.9 182.28L332.3 182.28Z" fill="#fff" stroke="#000" stroke-width="0.9"/>
<path d="M363.6 179.05L366.4 184.65L360.8 184.65Z" fill="#fff" stroke="#000" stroke-width="0.9"/>
<path d="M392.1 235.68V245.18M389.7 235.68h4.8M389.7 245.18h4.8" stroke="#000" stroke-width="0.8" fill="none"/>
<path d="M392.1 237.63L394.9 243.23L389.3 243.23Z" fill="#fff" stroke="#000" stroke-width="0.9"/>
<path d="M420.6 253.02L423.4 258.62L417.8 258.62Z" fill="#fff" stroke="#000" stroke-width="0.9"/>
<path d="M449.1 254.6L451.9 260.2L446.3 260.2Z" fill="#fff" stroke="#000" stroke-width="0.9"/>
<rect x="303.8" y="175.88" width="5.6" height="5.6" fill="#000"/>
<rect x="332.3" y="175.88" width="5.6" height="5.6" fill="#000"/>
<rect x="360.8" y="177.47" width="5.6" height="5.6" fill="#000"/>
<path d="M392.1 192.93V200.85M389.7 192.93h4.8M389.7 200.85h4.8" stroke="#000" stroke-width="0.8" fill="none"/>
<rect x="389.3" y="194.09" width="5.6" height="5.6" fill="#000"/>
<path d="M420.6 249.93V255.82M418.2 249.93h4.8M418.2 255.82h4.8" stroke="#000" stroke-width="0.8" fill="none"/>
<rect x="417.8" y="250.3" width="5.6" height="5.6" fill="#000"/>
<rect x="446.3" y="254.6" width="5.6" height="5.6" fill="#000"/>
<rect x="303.1" y="175.18" width="7" height="7" fill="#000"/><path d="M304 176.08L309.2 181.28M309.2 176.08L304 181.28" stroke="#fff" stroke-width="0.9" fill="none"/>
<rect x="331.6" y="175.18" width="7" height="7" fill="#000"/><path d="M332.5 176.08L337.7 181.28M337.7 176.08L332.5 181.28" stroke="#fff" stroke-width="0.9" fill="none"/>
<path d="M392.1 238.85V248.35M389.7 238.85h4.8M389.7 248.35h4.8" stroke="#000" stroke-width="0.8" fill="none"/>
<rect x="388.6" y="240.1" width="7" height="7" fill="#000"/><path d="M389.5 241L394.7 246.2M394.7 241L389.5 246.2" stroke="#fff" stroke-width="0.9" fill="none"/>
<rect x="417.1" y="253.9" width="7" height="7" fill="#000"/><path d="M418 254.8L423.2 260M423.2 254.8L418 260" stroke="#fff" stroke-width="0.9" fill="none"/>
<rect x="445.6" y="253.9" width="7" height="7" fill="#000"/><path d="M446.5 254.8L451.7 260M451.7 254.8L446.5 260" stroke="#fff" stroke-width="0.9" fill="none"/>
<rect x="303.1" y="175.18" width="7" height="7" fill="#000"/><path d="M304 176.08L309.2 181.28M309.2 176.08L304 181.28" stroke="#fff" stroke-width="0.9" fill="none"/>
<rect x="331.6" y="175.18" width="7" height="7" fill="#000"/><path d="M332.5 176.08L337.7 181.28M337.7 176.08L332.5 181.28" stroke="#fff" stroke-width="0.9" fill="none"/>
<rect x="360.1" y="176.37" width="7" height="7" fill="#000"/><path d="M361 177.27L366.2 182.47M366.2 177.27L361 182.47" stroke="#fff" stroke-width="0.9" fill="none"/>
<path d="M392.1 180.27V185.02M389.7 180.27h4.8M389.7 185.02h4.8" stroke="#000" stroke-width="0.8" fill="none"/>
<rect x="388.6" y="179.14" width="7" height="7" fill="#000"/><path d="M389.5 180.04L394.7 185.24M394.7 180.04L389.5 185.24" stroke="#fff" stroke-width="0.9" fill="none"/>
<path d="M420.6 213.52V223.02M418.2 213.52h4.8M418.2 223.02h4.8" stroke="#000" stroke-width="0.8" fill="none"/>
<rect x="417.1" y="214.77" width="7" height="7" fill="#000"/><path d="M418 215.67L423.2 220.87M423.2 215.67L418 220.87" stroke="#fff" stroke-width="0.9" fill="none"/>
<path d="M449.1 247.8V254.13M446.7 247.8h4.8M446.7 254.13h4.8" stroke="#000" stroke-width="0.8" fill="none"/>
<rect x="445.6" y="247.46" width="7" height="7" fill="#000"/><path d="M446.5 248.36L451.7 253.56M451.7 248.36L446.5 253.56" stroke="#fff" stroke-width="0.9" fill="none"/>
<circle cx="306.6" cy="178.68" r="2.9" fill="#000"/>
<circle cx="335.1" cy="178.68" r="2.9" fill="#000"/>
<circle cx="363.6" cy="178.68" r="3" fill="#000"/>
<path d="M392.1 180.27V183.43M389.7 180.27h4.8M389.7 183.43h4.8" stroke="#000" stroke-width="0.8" fill="none"/>
<circle cx="392.1" cy="181.85" r="2.6" fill="#000"/>
<path d="M420.6 186.28V194.2M418.2 186.28h4.8M418.2 194.2h4.8" stroke="#000" stroke-width="0.8" fill="none"/>
<circle cx="420.6" cy="190.24" r="2.9" fill="#000"/>
<path d="M449.1 243.28V249.62M446.7 243.28h4.8M446.7 249.62h4.8" stroke="#000" stroke-width="0.8" fill="none"/>
<circle cx="449.1" cy="246.45" r="2.9" fill="#000"/>
<rect x="360.3" y="179.1" width="6.6" height="6.6" fill="#000"/><path d="M361.2 180L366 184.8M366 180L361.2 184.8" stroke="#fff" stroke-width="0.9" fill="none"/>
<rect x="455" y="168.7" width="31.4" height="45.8" fill="#fff" stroke="#777" stroke-width="0.8"/>
<path d="M457.2 173.1H466.1" stroke="#000" stroke-width="0.8"/>
<path d="M461.5 171.3L463.3 173.1L461.5 174.9L459.7 173.1Z" fill="#000"/>
<text x="467.4" y="174.85" font-size="4.8" font-family='"Liberation Sans", "DejaVu Sans", sans-serif' font-weight="bold" text-anchor="start" fill="#000" stroke="#000" stroke-width="0.3" stroke-linejoin="round" textLength="16" lengthAdjust="spacingAndGlyphs">Vector</text>
<path d="M457.2 180.6H466.1" stroke="#000" stroke-width="0.8"/>
<rect x="459.9" y="179" width="3.2" height="3.2" fill="#000"/>
<text x="467.4" y="182.35" font-size="4.8" font-family='"Liberation Sans", "DejaVu Sans", sans-serif' font-weight="bold" text-anchor="start" fill="#2a2a2a" stroke="#2a2a2a" stroke-width="0.15" stroke-linejoin="round" textLength="6.8" lengthAdjust="spacingAndGlyphs">WT</text>
<path d="M457.2 188.2H466.1" stroke="#000" stroke-width="0.8"/>
<path d="M461.5 186.9L462.8 189.5L460.2 189.5Z" fill="#fff" stroke="#000" stroke-width="0.9"/>
<text x="467.4" y="189.95" font-size="4.8" font-family='"Liberation Sans", "DejaVu Sans", sans-serif' font-weight="bold" text-anchor="start" fill="#2a2a2a" stroke="#2a2a2a" stroke-width="0.15" stroke-linejoin="round" textLength="10.5" lengthAdjust="spacingAndGlyphs">S70A</text>
<path d="M457.2 196.2H466.1" stroke="#000" stroke-width="0.8"/>
<rect x="460" y="194.7" width="3" height="3" fill="#fff" stroke="#000" stroke-width="0.9"/><circle cx="461.5" cy="196.2" r="0.5" fill="#000"/>
<text x="467.4" y="197.95" font-size="4.8" font-family='"Liberation Sans", "DejaVu Sans", sans-serif' font-weight="bold" text-anchor="start" fill="#2a2a2a" stroke="#2a2a2a" stroke-width="0.15" stroke-linejoin="round" textLength="10.5" lengthAdjust="spacingAndGlyphs">S70E</text>
<path d="M457.2 203.4H466.1" stroke="#000" stroke-width="0.8"/>
<rect x="460" y="201.9" width="3" height="3" fill="#fff" stroke="#000" stroke-width="0.9"/><circle cx="461.5" cy="203.4" r="0.5" fill="#000"/>
<text x="467.4" y="205.15" font-size="4.8" font-family='"Liberation Sans", "DejaVu Sans", sans-serif' font-weight="bold" text-anchor="start" fill="#2a2a2a" stroke="#2a2a2a" stroke-width="0.15" stroke-linejoin="round" textLength="8.3" lengthAdjust="spacingAndGlyphs">AAA</text>
<path d="M457.2 211.1H466.1" stroke="#000" stroke-width="0.8"/>
<circle cx="461.5" cy="211.1" r="1.6" fill="#000"/>
<text x="467.4" y="212.85" font-size="4.8" font-family='"Liberation Sans", "DejaVu Sans", sans-serif' font-weight="bold" text-anchor="start" fill="#2a2a2a" stroke="#2a2a2a" stroke-width="0.15" stroke-linejoin="round" textLength="7.6" lengthAdjust="spacingAndGlyphs">EEE</text>
</svg>
</body></html>
